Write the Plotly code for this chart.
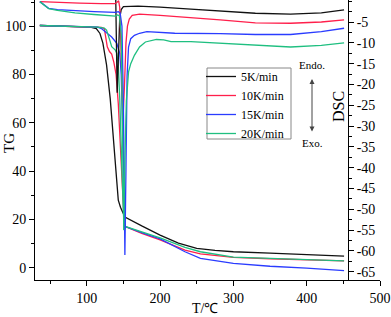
import plotly.graph_objects as go

# ---------------- data ----------------
series_names = ["5K/min", "10K/min", "15K/min", "20K/min"]
series_colors = ["#111111", "#ff1f4b", "#2a3cff", "#1fbf80"]

# TG curves (left axis)
t_tg_5 = [36, 60, 90, 105, 113, 118, 122, 127, 132, 138, 143, 146, 148, 150, 152, 175, 200, 225, 250, 275, 300, 350, 400, 451]
tg_5 = [100.3, 100.1, 99.9, 99.6, 99.0, 97.0, 93.0, 84.0, 70.0, 49.0, 28.0, 25.0, 23.5, 22.0, 21.0, 17.3, 13.5, 10.2, 8.0, 7.2, 6.6, 6.0, 5.4, 4.8]

t_tg_10 = [36, 60, 90, 110, 120, 124, 126, 128, 131, 134, 137, 140, 143, 146, 149, 151, 152.5, 175, 200, 234, 255, 300, 350, 400, 451]
tg_10 = [100.3, 100.1, 99.9, 99.7, 99.5, 99.0, 96.0, 91.5, 89.5, 88.5, 85.0, 80.0, 68.0, 50.0, 30.0, 19.0, 17.0, 14.2, 11.5, 7.3, 5.7, 4.3, 3.7, 3.2, 2.8]

t_tg_15 = [36, 60, 90, 115, 120, 125, 130, 134, 141, 145, 147, 149, 151, 152.5, 175, 200, 234, 255, 300, 350, 400, 451]
tg_15 = [100.3, 100.1, 99.9, 99.6, 99.0, 97.8, 96.3, 95.5, 92.9, 88.8, 80.0, 55.0, 25.0, 17.0, 14.5, 11.9, 6.6, 3.9, 1.8, 0.6, -0.2, -1.2]

t_tg_20 = [36, 60, 90, 115, 124, 127, 132, 134, 139, 141, 143, 145, 148, 150, 151, 153, 175, 200, 234, 255, 300, 350, 400, 451]
tg_20 = [100.3, 100.1, 99.9, 99.6, 99.2, 98.4, 93.6, 91.5, 90.1, 88.8, 84.0, 70.0, 40.0, 16.0, 15.5, 17.0, 14.8, 12.3, 8.4, 6.6, 4.4, 3.8, 3.3, 2.8]

# DSC curves (right axis)
t_dsc_5 = [36, 80, 120, 138, 139.5, 141.5, 143.5, 145, 147, 150, 170, 200, 242, 282, 330, 378, 420, 451]
dsc_5 = [3.0, 2.8, 2.4, 2.0, 1.0, -22.0, -8.0, -4.0, -2.0, -1.3, -1.2, -1.4, -1.9, -2.4, -2.9, -3.1, -2.8, -2.1]

t_dsc_10 = [36, 60, 90, 120, 138, 141, 143.5, 145, 147, 149.5, 151.5, 153.5, 155.5, 158, 162, 172, 200, 242, 282, 330, 378, 420, 451]
dsc_10 = [-0.1, -0.3, -0.45, -0.6, -0.6, -0.3, 0.1, -1.5, -12.0, -28.0, -20.0, -10.0, -6.0, -4.3, -3.4, -3.1, -3.4, -3.9, -4.5, -5.2, -5.3, -5.0, -4.5]

t_dsc_15 = [36, 42, 48, 60, 84, 110, 139, 143, 145.5, 148, 150, 152, 153.5, 155, 157, 160, 165, 172, 182, 195, 220, 282, 330, 378, 420, 451]
dsc_15 = [-0.1, -1.0, -1.7, -2.0, -2.3, -2.5, -2.7, -2.5, -2.8, -6.0, -25.0, -61.0, -40.0, -18.0, -11.0, -9.0, -8.2, -7.7, -7.3, -7.4, -7.7, -7.8, -8.0, -8.0, -7.3, -6.5]

t_dsc_20 = [36, 42, 48, 60, 84, 110, 139, 142, 144.5, 147, 149, 150.5, 152, 154, 157, 160, 165, 172, 180, 195, 205, 215, 242, 282, 330, 378, 420, 451]
dsc_20 = [-0.1, -1.0, -1.8, -2.2, -2.8, -3.2, -3.6, -3.3, -3.5, -8.0, -30.0, -55.0, -38.0, -24.0, -17.0, -15.0, -13.0, -11.0, -9.8, -9.2, -9.3, -9.7, -9.7, -10.1, -10.7, -11.0, -10.6, -10.0]

x_tickvals = [100, 200, 300, 400, 500]
tg_tickvals = [0, 20, 40, 60, 80, 100]
dsc_tickvals = [-5, -10, -15, -20, -25, -30, -35, -40, -45, -50, -55, -60, -65]
dsc_ticktext = ["-5", "-10", "-15", "-20", "-25", "-30", "-35", "-40", "-45", "-50", "-55", "-60", "-65"]

tg_x = [t_tg_5, t_tg_10, t_tg_15, t_tg_20]
tg_y = [tg_5, tg_10, tg_15, tg_20]
dsc_x = [t_dsc_5, t_dsc_10, t_dsc_15, t_dsc_20]
dsc_y = [dsc_5, dsc_10, dsc_15, dsc_20]

# ---------------- figure ----------------
FONT = "Liberation Serif"
fig = go.Figure()
for i in range(4):
    fig.add_trace(go.Scatter(x=tg_x[i], y=tg_y[i], mode="lines", name=series_names[i],
                             line=dict(color=series_colors[i], width=1.3),
                             legendgroup=series_names[i], showlegend=True, yaxis="y"))
for i in range(4):
    fig.add_trace(go.Scatter(x=dsc_x[i], y=dsc_y[i], mode="lines", name=series_names[i],
                             line=dict(color=series_colors[i], width=1.3),
                             legendgroup=series_names[i], showlegend=False, yaxis="y2"))

axis_common = dict(showgrid=False, zeroline=False, showline=True, linecolor="black", linewidth=1,
                   ticks="outside", ticklen=5, tickwidth=1, tickcolor="black", automargin=False,
                   tickfont=dict(family=FONT, size=14, color="black"))

PL, PT, PW, PH = 35, 0, 345, 280  # plot area in pixels


def px_x(p):
    return (p - PL) / PW


def px_y(p):
    return 1 - (p - PT) / PH


fig.update_layout(
    width=391, height=317,
    margin=dict(l=35, r=11, t=0, b=37),
    paper_bgcolor="white", plot_bgcolor="white",
    xaxis=dict(range=[29.4, 500], tickvals=x_tickvals,
               minor=dict(dtick=50, tick0=0, ticks="outside", ticklen=3, tickcolor="black"),
               **axis_common),
    yaxis=dict(range=[-5.1, 110.85], tickvals=tg_tickvals,
               minor=dict(dtick=10, tick0=0, ticks="outside", ticklen=3, tickcolor="black"),
               **axis_common),
    yaxis2=dict(range=[-67.0, 0.29], tickvals=dsc_tickvals, ticktext=dsc_ticktext,
                overlaying="y", anchor="free", position=0.907, side="right",
                minor=dict(dtick=2.5, tick0=0, ticks="outside", ticklen=3, tickcolor="black"),
                **axis_common),
    legend=dict(x=px_x(201), y=px_y(62), xanchor="left", yanchor="top",
                borderwidth=0, bgcolor="rgba(255,255,255,0)",
                font=dict(family=FONT, size=12, color="black"),
                itemwidth=30, tracegroupgap=0),
    showlegend=True,
)

# legend frame
fig.add_shape(type="rect", xref="paper", yref="paper",
              x0=px_x(207), x1=px_x(291), y0=px_y(139), y1=px_y(68),
              line=dict(color="#888888", width=1), fillcolor="rgba(0,0,0,0)", layer="above")

ann_font = dict(family=FONT, color="black")
common_anchor = dict(xref="paper", yref="paper", xanchor="center", yanchor="middle", showarrow=False)
fig.add_annotation(x=px_x(9), y=px_y(143), text="TG", textangle=-90,
                   font=dict(size=15, **ann_font), **common_anchor)
fig.add_annotation(x=px_x(338), y=px_y(107), text="DSC", textangle=-90,
                   font=dict(size=16, **ann_font), **common_anchor)
fig.add_annotation(x=px_x(205), y=px_y(308), text="T/\u2103",
                   font=dict(size=14, **ann_font), **common_anchor)
fig.add_annotation(x=px_x(312), y=px_y(65), text="Endo.",
                   font=dict(size=11, **ann_font), **common_anchor)
fig.add_annotation(x=px_x(312), y=px_y(143), text="Exo.",
                   font=dict(size=11, **ann_font), **common_anchor)
fig.add_annotation(x=px_x(312), y=px_y(79), xref="paper", yref="paper", text="",
                   showarrow=True, ax=0, ay=54, arrowside="end+start",
                   arrowhead=2, startarrowhead=2, arrowsize=1, startarrowsize=1,
                   arrowwidth=1, arrowcolor="#444444")

fig.write_html("out.html", config={"displayModeBar": False},
               post_script="document.body.style.margin='0px';document.body.style.padding='0px';")
